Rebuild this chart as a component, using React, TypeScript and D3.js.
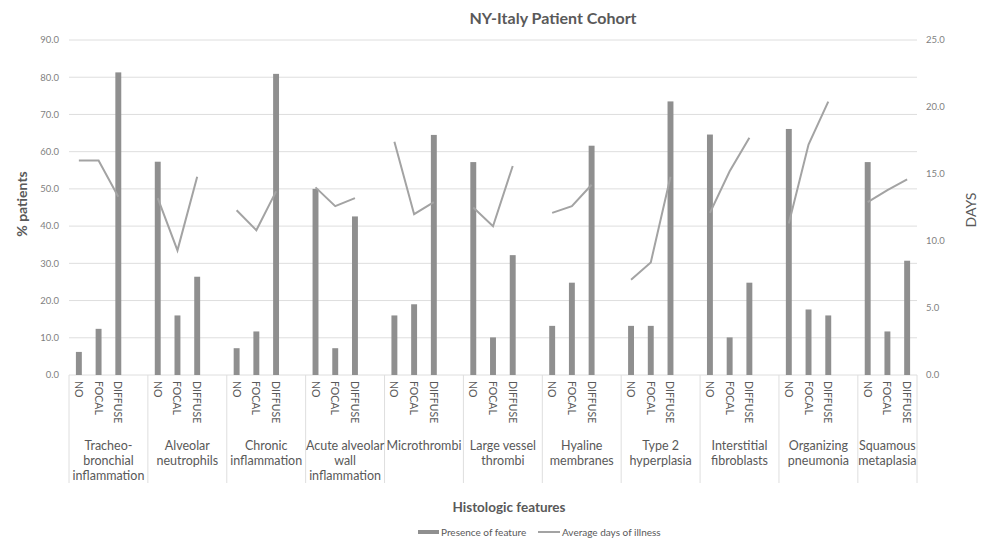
import React, { useEffect, useRef } from 'react'
import * as d3 from 'd3'

// histologic features (group labels, one array entry per text line)
const groups: string[][] = [
  ['Tracheo-', 'bronchial', 'inflammation'],
  ['Alveolar', 'neutrophils'],
  ['Chronic', 'inflammation'],
  ['Acute alveolar', 'wall', 'inflammation'],
  ['Microthrombi'],
  ['Large vessel', 'thrombi'],
  ['Hyaline', 'membranes'],
  ['Type 2', 'hyperplasia'],
  ['Interstitial', 'fibroblasts'],
  ['Organizing', 'pneumonia'],
  ['Squamous', 'metaplasia'],
]
const levels = ['NO', 'FOCAL', 'DIFFUSE']

// % patients with feature [NO, FOCAL, DIFFUSE] per group
const presence: number[][] = [
  [6.2, 12.4, 81.3],
  [57.3, 16.0, 26.4],
  [7.2, 11.7, 80.9],
  [50.0, 7.2, 42.6],
  [16.0, 19.0, 64.5],
  [57.2, 10.1, 32.2],
  [13.2, 24.8, 61.6],
  [13.2, 13.2, 73.5],
  [64.6, 10.1, 24.8],
  [66.1, 17.6, 16.0],
  [57.2, 11.7, 30.7],
]

// average days of illness [NO, FOCAL, DIFFUSE] per group
const days: number[][] = [
  [16.0, 16.0, 13.3],
  [13.2, 9.3, 14.8],
  [12.3, 10.8, 13.7],
  [14.0, 12.6, 13.2],
  [17.4, 12.0, 12.9],
  [12.5, 11.1, 15.6],
  [12.1, 12.6, 14.2],
  [7.1, 8.4, 14.8],
  [12.1, 15.2, 17.7],
  [11.3, 17.2, 20.4],
  [12.9, 13.8, 14.6],
]

const leftTicks = [0, 10, 20, 30, 40, 50, 60, 70, 80, 90]
const rightTicks = [0, 5, 10, 15, 20, 25]

export default function App() {
  const ref = useRef<SVGSVGElement>(null)

  useEffect(() => {
    const width = 984
    const height = 539
    const left = 69
    const right = 917
    const top = 40
    const bottom = 375
    const font = 'Lato, "Open Sans", sans-serif'
    const barColor = '#8f8f8f'
    const lineColor = '#a3a3a3'
    const textColor = '#595959'

    const svg = d3.select(ref.current)
    svg.selectAll('*').remove()
    svg.attr('width', width).attr('height', height)

    // every group gets an empty slot after it except the last one
    const keys: string[] = []
    groups.forEach((g, i) => {
      levels.forEach(l => keys.push(`${i}-${l}`))
      if (i < groups.length - 1) keys.push(`${i}-gap`)
    })

    const x = d3.scaleBand<string>()
      .domain(keys)
      .range([left, right])
      .paddingInner(0.7)
      .paddingOuter(0.35)
    const step = x.step()

    const yLeft = d3.scaleLinear().domain([0, 90]).range([bottom, top])
    const yRight = d3.scaleLinear().domain([0, 25]).range([bottom, top])

    // gridlines
    svg.append('g')
      .selectAll('line')
      .data(leftTicks)
      .join('line')
      .attr('x1', left)
      .attr('x2', right)
      .attr('y1', d => yLeft(d))
      .attr('y2', d => yLeft(d))
      .attr('stroke', '#dedede')
      .attr('stroke-width', 1)

    // left axis labels
    svg.append('g')
      .selectAll('text')
      .data(leftTicks)
      .join('text')
      .attr('x', 59)
      .attr('y', d => yLeft(d))
      .attr('dy', '0.35em')
      .attr('text-anchor', 'end')
      .attr('font-family', font)
      .attr('font-size', 9.5)
      .attr('fill', '#7f7f7f')
      .text(d => d.toFixed(1))

    // right axis labels
    svg.append('g')
      .selectAll('text')
      .data(rightTicks)
      .join('text')
      .attr('x', 926)
      .attr('y', d => yRight(d))
      .attr('dy', '0.35em')
      .attr('font-family', font)
      .attr('font-size', 9.5)
      .attr('fill', '#7f7f7f')
      .text(d => d.toFixed(1))

    // group separators
    const seps = groups.map((g, i) => (x(`${i}-NO`) as number) - step * 0.35)
    seps.push(right)
    svg.append('g')
      .selectAll('line')
      .data(seps)
      .join('line')
      .attr('x1', d => d)
      .attr('x2', d => d)
      .attr('y1', bottom)
      .attr('y2', 483)
      .attr('stroke', '#dedede')

    // bars
    const barData = groups.flatMap((g, i) =>
      levels.map((l, j) => ({ key: `${i}-${l}`, value: presence[i][j] })))
    svg.append('g')
      .selectAll('rect')
      .data(barData)
      .join('rect')
      .attr('x', d => x(d.key) as number)
      .attr('width', x.bandwidth())
      .attr('y', d => yLeft(d.value))
      .attr('height', d => bottom - yLeft(d.value))
      .attr('fill', barColor)

    // days line, broken between groups
    const line = d3.line<{ key: string, value: number }>()
      .x(d => (x(d.key) as number) + x.bandwidth() / 2)
      .y(d => yRight(d.value))
    svg.append('g')
      .selectAll('path')
      .data(groups.map((g, i) => levels.map((l, j) => ({ key: `${i}-${l}`, value: days[i][j] }))))
      .join('path')
      .attr('d', d => line(d))
      .attr('fill', 'none')
      .attr('stroke', lineColor)
      .attr('stroke-width', 2)

    // category labels, rotated
    svg.append('g')
      .selectAll('text')
      .data(barData)
      .join('text')
      .attr('transform', d => `translate(${(x(d.key) as number) + x.bandwidth() / 2},381) rotate(90)`)
      .attr('dominant-baseline', 'central')
      .attr('font-family', font)
      .attr('font-size', 10.5)
      .attr('fill', textColor)
      .text(d => d.key.split('-')[1])

    // group labels
    const gl = svg.append('g')
    groups.forEach((g, i) => {
      const cx = (seps[i] + seps[i + 1]) / 2
      g.forEach((t, k) => {
        gl.append('text')
          .attr('x', cx)
          .attr('y', 450 + k * 15)
          .attr('text-anchor', 'middle')
          .attr('font-family', font)
          .attr('font-size', 12.5)
          .attr('fill', textColor)
          .text(t)
      })
    })

    // titles
    svg.append('text')
      .attr('x', 553).attr('y', 24)
      .attr('text-anchor', 'middle')
      .attr('font-family', font).attr('font-size', 16).attr('font-weight', 'bold')
      .attr('fill', textColor)
      .text('NY-Italy Patient Cohort')

    svg.append('text')
      .attr('transform', 'translate(21,204) rotate(-90)')
      .attr('text-anchor', 'middle')
      .attr('dominant-baseline', 'central')
      .attr('font-family', font).attr('font-size', 14).attr('font-weight', 'bold')
      .attr('fill', textColor)
      .text('% patients')

    svg.append('text')
      .attr('transform', 'translate(970,210) rotate(-90)')
      .attr('text-anchor', 'middle')
      .attr('dominant-baseline', 'central')
      .attr('font-family', font).attr('font-size', 14)
      .attr('fill', textColor)
      .text('DAYS')

    svg.append('text')
      .attr('x', 509).attr('y', 512)
      .attr('text-anchor', 'middle')
      .attr('font-family', font).attr('font-size', 13.5).attr('font-weight', 'bold')
      .attr('fill', textColor)
      .text('Histologic features')

    // legend
    const lg = svg.append('g').attr('font-family', font).attr('font-size', 10).attr('fill', textColor)
    lg.append('rect').attr('x', 418).attr('y', 530).attr('width', 21).attr('height', 4).attr('fill', barColor)
    lg.append('text').attr('x', 441).attr('y', 532).attr('dy', '0.35em').text('Presence of feature')
    lg.append('line').attr('x1', 538).attr('x2', 560).attr('y1', 532).attr('y2', 532)
      .attr('stroke', lineColor).attr('stroke-width', 2)
    lg.append('text').attr('x', 562).attr('y', 532).attr('dy', '0.35em').text('Average days of illness')
  }, [])

  return (
    <svg ref={ref} style={{ position: 'absolute', left: 0, top: 0, background: '#fff' }} />
  )
}
